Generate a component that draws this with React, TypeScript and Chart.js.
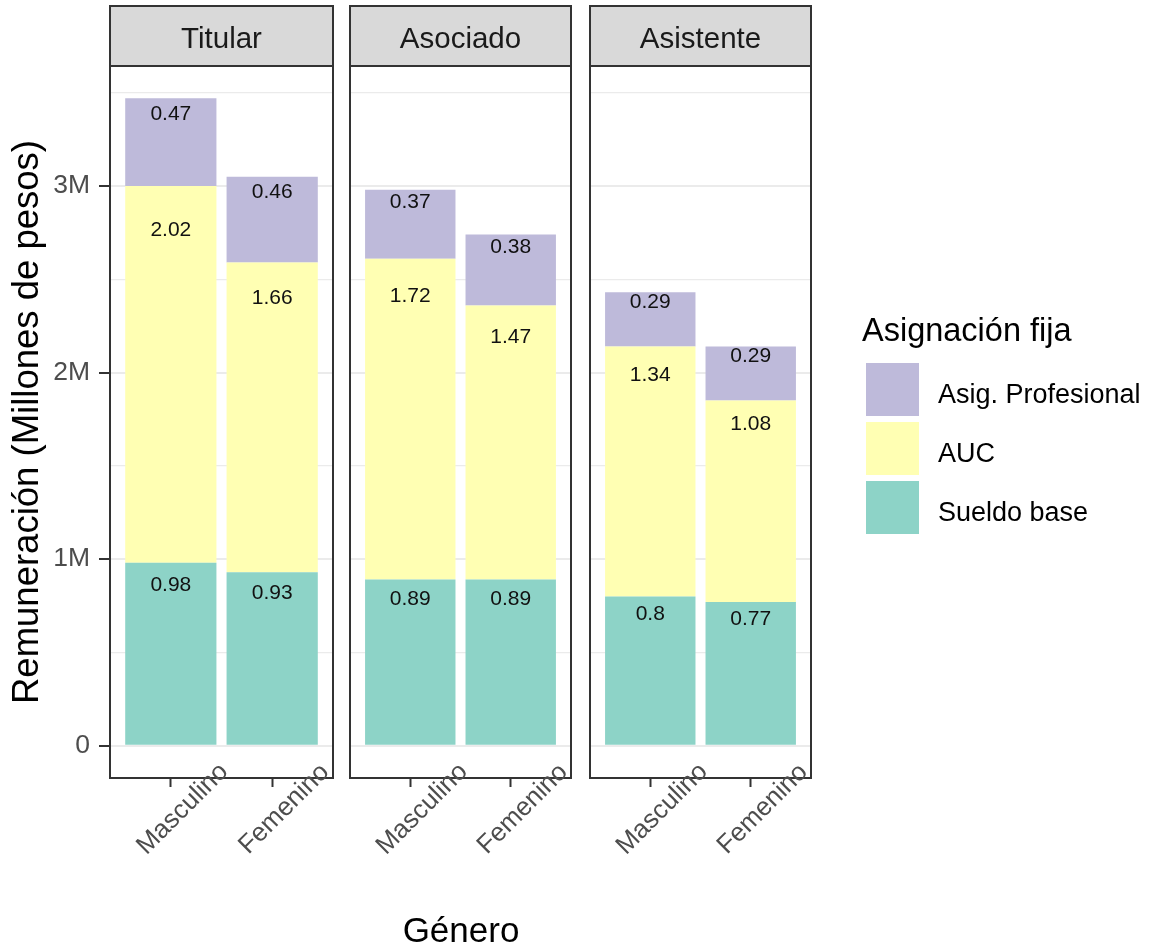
import React, { useEffect, useRef } from 'react';
import { Chart, registerables } from 'chart.js';

Chart.register(...registerables);

// ---------- data ----------
const ranks = ['Titular', 'Asociado', 'Asistente'];
const genders = ['Masculino', 'Femenino'];
const components = ['Sueldo base', 'AUC', 'Asig. Profesional'];
// values in millions of pesos, per rank: [Masculino, Femenino]
const sueldoBase = [[0.98, 0.93], [0.89, 0.89], [0.8, 0.77]];
const auc = [[2.02, 1.66], [1.72, 1.47], [1.34, 1.08]];
const asigProfesional = [[0.47, 0.46], [0.37, 0.38], [0.29, 0.29]];
const yTickValues = [0, 0.5, 1, 1.5, 2, 2.5, 3, 3.5];
const yTickLabels = ['0', '', '1M', '', '2M', '', '3M', ''];

// ---------- styles / layout ----------
const FONT = '"Liberation Sans", Arial, sans-serif';
const W = 1151;
const H = 949;
const colors = ['#8DD3C7', '#FFFFB3', '#BEBADA'];
const labelShift = [0.12, 0.116, 0.18];
const panels = [
  { left: 110, right: 333 },
  { left: 350, right: 571 },
  { left: 590, right: 811 },
];
const PANEL_TOP = 66;
const PANEL_BOTTOM = 778;
const STRIP_TOP = 6;
const X_AXIS_H = 40;

const series = [sueldoBase, auc, asigProfesional];
const totals: number[] = [];
ranks.forEach((_, p) =>
  genders.forEach((_, j) => totals.push(series.reduce((s, arr) => s + arr[p][j], 0)))
);
const maxTotal = Math.max(...totals);
const yMin = -0.05 * maxTotal;
const yMax = maxTotal * 1.05;

Chart.defaults.font.family = FONT;

const panelPlugin = {
  id: 'panelDeco',
  afterDatasetsDraw(chart: any) {
    const ctx = chart.ctx;
    const yScale = chart.scales.y;
    ctx.save();
    ctx.font = `21px ${FONT}`;
    ctx.fillStyle = '#111111';
    ctx.textAlign = 'center';
    ctx.textBaseline = 'middle';
    chart.data.datasets.forEach((ds: any, k: number) => {
      const meta = chart.getDatasetMeta(k);
      ds.data.forEach((pt: any, j: number) => {
        let cum = 0;
        for (let m = 0; m <= k; m++) cum += chart.data.datasets[m].data[j].y;
        const yVal = cum - ds.labelShift * pt.y;
        const px = meta.data[j].x;
        const py = yScale.getPixelForValue(yVal);
        ctx.fillText(String(pt.y), px, py);
      });
    });
    ctx.restore();
  },
  afterDraw(chart: any, _args: any, opts: any) {
    const ctx = chart.ctx;
    const a = chart.chartArea;
    ctx.save();
    // strip
    ctx.fillStyle = '#D9D9D9';
    ctx.fillRect(a.left, STRIP_TOP, a.right - a.left, a.top - STRIP_TOP);
    ctx.strokeStyle = '#333333';
    ctx.lineWidth = 2;
    ctx.strokeRect(a.left, STRIP_TOP, a.right - a.left, a.top - STRIP_TOP);
    ctx.fillStyle = '#1A1A1A';
    ctx.font = `29.5px ${FONT}`;
    ctx.textAlign = 'center';
    ctx.textBaseline = 'middle';
    ctx.fillText(opts.title, (a.left + a.right) / 2, 40);
    // panel border
    ctx.strokeRect(a.left, a.top, a.right - a.left, a.bottom - a.top);
    // rotated x labels
    const xs = chart.scales.x;
    ctx.fillStyle = '#4D4D4D';
    ctx.font = `26px ${FONT}`;
    xs.ticks.forEach((t: any) => {
      const px = xs.getPixelForValue(t.value);
      ctx.save();
      ctx.translate(px + 12, a.bottom + 31);
      ctx.rotate(-Math.PI / 4);
      ctx.fillText(genders[t.value - 1], 0, 0);
      ctx.restore();
    });
    ctx.restore();
  },
};

function makeConfig(p: number): any {
  const first = p === 0;
  const yWidth = first ? panels[0].left : 0;
  return {
    type: 'bar',
    data: {
      datasets: series.map((s, k) => ({
        label: components[k],
        data: s[p].map((v, j) => ({ x: j + 1, y: v })),
        backgroundColor: colors[k],
        borderWidth: 0,
        categoryPercentage: 1,
        barPercentage: 0.9,
        labelShift: labelShift[k],
      })),
    },
    options: {
      animation: false,
      responsive: false,
      events: [],
      layout: {
        padding: {
          left: panels[p].left - yWidth,
          right: W - panels[p].right,
          top: PANEL_TOP,
          bottom: H - PANEL_BOTTOM - X_AXIS_H,
        },
      },
      plugins: {
        legend: { display: false },
        tooltip: { enabled: false },
        panelDeco: { title: ranks[p] },
      },
      scales: {
        x: {
          type: 'linear',
          stacked: true,
          offset: false,
          min: 0.4,
          max: 2.6,
          afterBuildTicks: (s: any) => {
            s.ticks = genders.map((_, i) => ({ value: i + 1 }));
          },
          afterFit: (s: any) => {
            s.height = X_AXIS_H;
          },
          ticks: { display: false },
          border: { display: false },
          grid: {
            offset: false,
            drawOnChartArea: false,
            drawTicks: true,
            tickLength: 9,
            tickColor: '#333333',
            tickWidth: 2,
            color: 'rgba(0,0,0,0)',
          },
        },
        y: {
          type: 'linear',
          stacked: true,
          min: yMin,
          max: yMax,
          afterBuildTicks: (s: any) => {
            s.ticks = yTickValues.map((v) => ({ value: v }));
          },
          afterFit: (s: any) => {
            s.width = yWidth;
          },
          border: { display: false },
          title: {
            display: first,
            text: 'Remuneración (Millones de pesos)',
            color: '#000000',
            font: { size: 36.5, family: FONT },
            padding: { top: 6, bottom: 0 },
          },
          ticks: {
            display: first,
            color: '#4D4D4D',
            font: { size: 26.5, family: FONT },
            padding: 9,
            callback: (v: number) => yTickLabels[yTickValues.indexOf(v)] ?? '',
          },
          grid: {
            drawTicks: first,
            tickLength: 11,
            tickWidth: 2,
            color: '#EBEBEB',
            lineWidth: (c: any) => (c.tick && Number.isInteger(c.tick.value) ? 2 : 1.2),
            tickColor: (c: any) =>
              c.tick && Number.isInteger(c.tick.value) ? '#333333' : 'rgba(0,0,0,0)',
          },
        },
      },
    },
    plugins: [panelPlugin],
  };
}

export default function App() {
  const r0 = useRef<HTMLCanvasElement>(null);
  const r1 = useRef<HTMLCanvasElement>(null);
  const r2 = useRef<HTMLCanvasElement>(null);
  const refs = [r0, r1, r2];

  useEffect(() => {
    const charts = refs.map((r, p) => new Chart(r.current as HTMLCanvasElement, makeConfig(p)));
    return () => charts.forEach((c) => c.destroy());
  }, []);

  const legendOrder = [2, 1, 0];

  return (
    <div
      style={{
        position: 'absolute',
        left: 0,
        top: 0,
        width: W,
        height: H,
        background: '#ffffff',
        fontFamily: FONT,
        overflow: 'hidden',
      }}
    >
      {refs.map((r, p) => (
        <canvas
          key={p}
          ref={r}
          width={W}
          height={H}
          style={{ position: 'absolute', left: 0, top: 0, width: W, height: H }}
        />
      ))}
      <div
        style={{
          position: 'absolute',
          left: 361,
          width: 200,
          top: 910,
          fontSize: 35,
          lineHeight: '40px',
          textAlign: 'center',
          color: '#000',
        }}
      >
        Género
      </div>
      <div
        style={{
          position: 'absolute',
          left: 862,
          top: 311,
          fontSize: 32.5,
          lineHeight: '38px',
          color: '#000',
          whiteSpace: 'nowrap',
        }}
      >
        Asignación fija
      </div>
      {legendOrder.map((k, i) => (
        <React.Fragment key={k}>
          <div
            style={{
              position: 'absolute',
              left: 866,
              top: 363 + 59 * i,
              width: 53,
              height: 53,
              background: colors[k],
            }}
          />
          <div
            style={{
              position: 'absolute',
              left: 938,
              top: 390 + 59 * i + 4 - 15,
              fontSize: 27,
              lineHeight: '30px',
              color: '#000',
              whiteSpace: 'nowrap',
            }}
          >
            {components[k]}
          </div>
        </React.Fragment>
      ))}
    </div>
  );
}
